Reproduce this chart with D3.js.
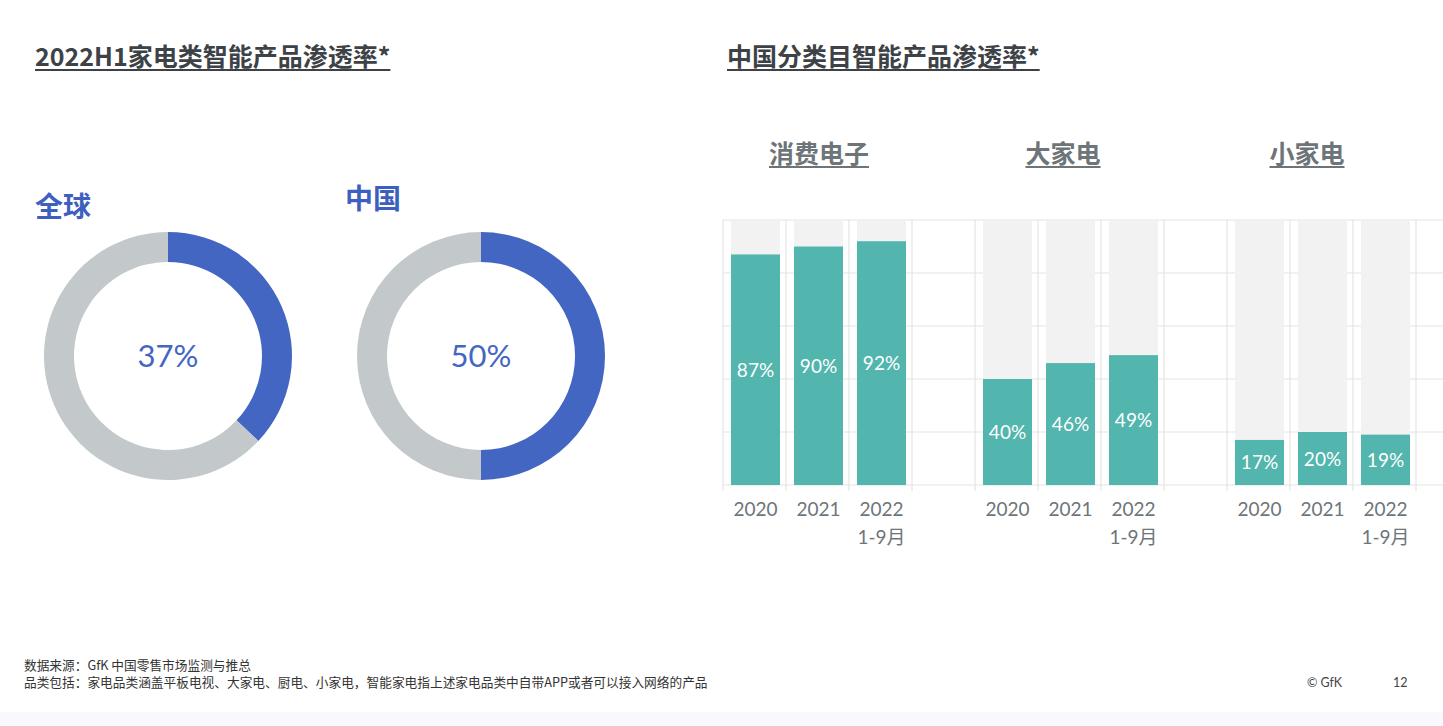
<!DOCTYPE html>
<html><head><meta charset="utf-8">
<script src="https://cdn.jsdelivr.net/npm/d3@7"></script>
<style>
html,body{margin:0;padding:0;background:#fff;}
svg{display:block;}
</style></head>
<body><svg id="c" width="1443" height="726"></svg>
<script>
// ---- data ----
const leftTitle = "2022H1家电类智能产品渗透率*";
const rightTitle = "中国分类目智能产品渗透率*";
const donutLabels = ["全球", "中国"];
const donutValues = [37, 50];
const categories = ["消费电子", "大家电", "小家电"];
const years = ["2020", "2021", "2022|1-9月"];
const valuesConsumer = [87, 90, 92];
const valuesLarge = [40, 46, 49];
const valuesSmall = [17, 20, 19];
const yTicks = [0, 20, 40, 60, 80, 100];
const footnotes = ["数据来源：GfK 中国零售市场监测与推总",
  "品类包括：家电品类涵盖平板电视、大家电、厨电、小家电，智能家电指上述家电品类中自带APP或者可以接入网络的产品"];

const seriesValues = [valuesConsumer, valuesLarge, valuesSmall];
const CJK = "'Noto Sans CJK SC', 'Noto Sans', sans-serif";
const LAT = "Lato, 'Noto Sans CJK SC', sans-serif";
const svg = d3.select("#c");

// bottom band
svg.append("rect").attr("x",0).attr("y",712).attr("width",1443).attr("height",14).attr("fill","#f7f9fd");

// titles with underline
function titleU(x, y, txt, size, color, anchor, ulw){
  const t = svg.append("text").attr("x",x).attr("y",y).attr("font-family",CJK)
    .attr("font-size",size).attr("font-weight",700).attr("fill",color)
    .attr("text-anchor",anchor||"start").text(txt);
  const bb = t.node().getBBox();
  svg.append("rect").attr("x",bb.x).attr("y",y+3).attr("width",bb.width).attr("height",ulw||2).attr("fill",color);
}
titleU(35, 66, leftTitle, 25, "#3d4247");
titleU(727, 66, rightTitle, 25, "#3d4247");

// ---- donuts ----
const donutCx = d3.scaleOrdinal().domain(donutLabels).range([168, 481]);
const labelPos = {"全球":[35,217], "中国":[345,209]};
const arc = d3.arc().innerRadius(94).outerRadius(124);
const pie = d3.pie().sort(null).value(d=>d);
donutLabels.forEach((lab,i)=>{
  const g = svg.append("g").attr("transform",`translate(${donutCx(lab)},356)`);
  const v = donutValues[i];
  g.selectAll("path").data(pie([v, 100-v])).join("path")
    .attr("d", arc).attr("fill",(d,j)=> j===0 ? "#4366c2" : "#c3c8ca");
  g.append("text").attr("y",11).attr("text-anchor","middle")
    .attr("font-family",LAT).attr("font-weight",400).attr("font-size",31)
    .attr("fill","#4366c2").text(v + "%");
  svg.append("text").attr("x",labelPos[lab][0]).attr("y",labelPos[lab][1])
    .attr("font-family",CJK).attr("font-weight",700).attr("font-size",28)
    .attr("fill","#3d5fc0").text(lab);
});

// ---- bars ----
const slots = [];
categories.forEach((c,ci)=>{ years.forEach((y,yi)=>slots.push(c+"_"+yi)); slots.push(c+"_gap"); });
const x = d3.scaleBand().domain(slots).range([723, 723 + 63*slots.length]).padding(0);
const y = d3.scaleLinear().domain([0,100]).range([485, 220]);
const barInset = 8, barW = 49;

const grid = svg.append("g");
grid.selectAll("line.h").data(yTicks).join("line")
  .attr("x1",723).attr("x2",1443).attr("y1",d=>y(d)).attr("y2",d=>y(d))
  .attr("stroke","#e4e4e4").attr("stroke-width",1.2);
grid.selectAll("line.v").data(slots).join("line")
  .attr("x1",d=>x(d)).attr("x2",d=>x(d)).attr("y1",y(100)).attr("y2",y(0)+6)
  .attr("stroke","#e4e4e4").attr("stroke-width",1.2);

const barData = [];
categories.forEach((c,ci)=> years.forEach((yr,yi)=> barData.push({key:c+"_"+yi, v:seriesValues[ci][yi], yr})));

svg.append("g").selectAll("rect").data(barData).join("rect")
  .attr("x",d=>x(d.key)+barInset).attr("width",barW)
  .attr("y",y(100)+1).attr("height",y(0)-y(100)-1).attr("fill","#f2f2f2");
svg.append("g").selectAll("rect").data(barData).join("rect")
  .attr("x",d=>x(d.key)+barInset).attr("width",barW)
  .attr("y",d=>y(d.v)).attr("height",d=>y(0)-y(d.v)).attr("fill","#52b5ae");
svg.append("g").selectAll("text").data(barData).join("text")
  .attr("x",d=>x(d.key)+barInset+barW/2).attr("y",d=>(y(d.v)+y(0))/2+7)
  .attr("text-anchor","middle").attr("font-family",LAT).attr("font-size",19)
  .attr("fill","#ffffff").text(d=>d.v+"%");

// x labels
const xl = svg.append("g").selectAll("text").data(barData).join("text")
  .attr("text-anchor","middle").attr("font-family",LAT).attr("font-size",19)
  .attr("fill","#6d7579");
xl.each(function(d){
  const parts = d.yr.split("|");
  const t = d3.select(this);
  parts.forEach((p,k)=> t.append("tspan").attr("x",x(d.key)+barInset+barW/2).attr("y",516+k*28).text(p));
});

// category headers
const catX = d3.scaleOrdinal().domain(categories).range([819, 1063, 1307]);
categories.forEach(c=> titleU(catX(c), 163, c, 25, "#6d7579", "middle", 2));

// footnotes
footnotes.forEach((f,i)=> svg.append("text").attr("x",24).attr("y",670+i*17)
  .attr("font-family",CJK).attr("font-size",12.7).attr("fill","#333").text(f));
svg.append("text").attr("x",1307).attr("y",687).attr("font-family",LAT).attr("font-size",12.5).attr("fill","#444").text("© GfK");
svg.append("text").attr("x",1393).attr("y",687).attr("font-family",LAT).attr("font-size",12.5).attr("fill","#444").text("12");
</script></body></html>
